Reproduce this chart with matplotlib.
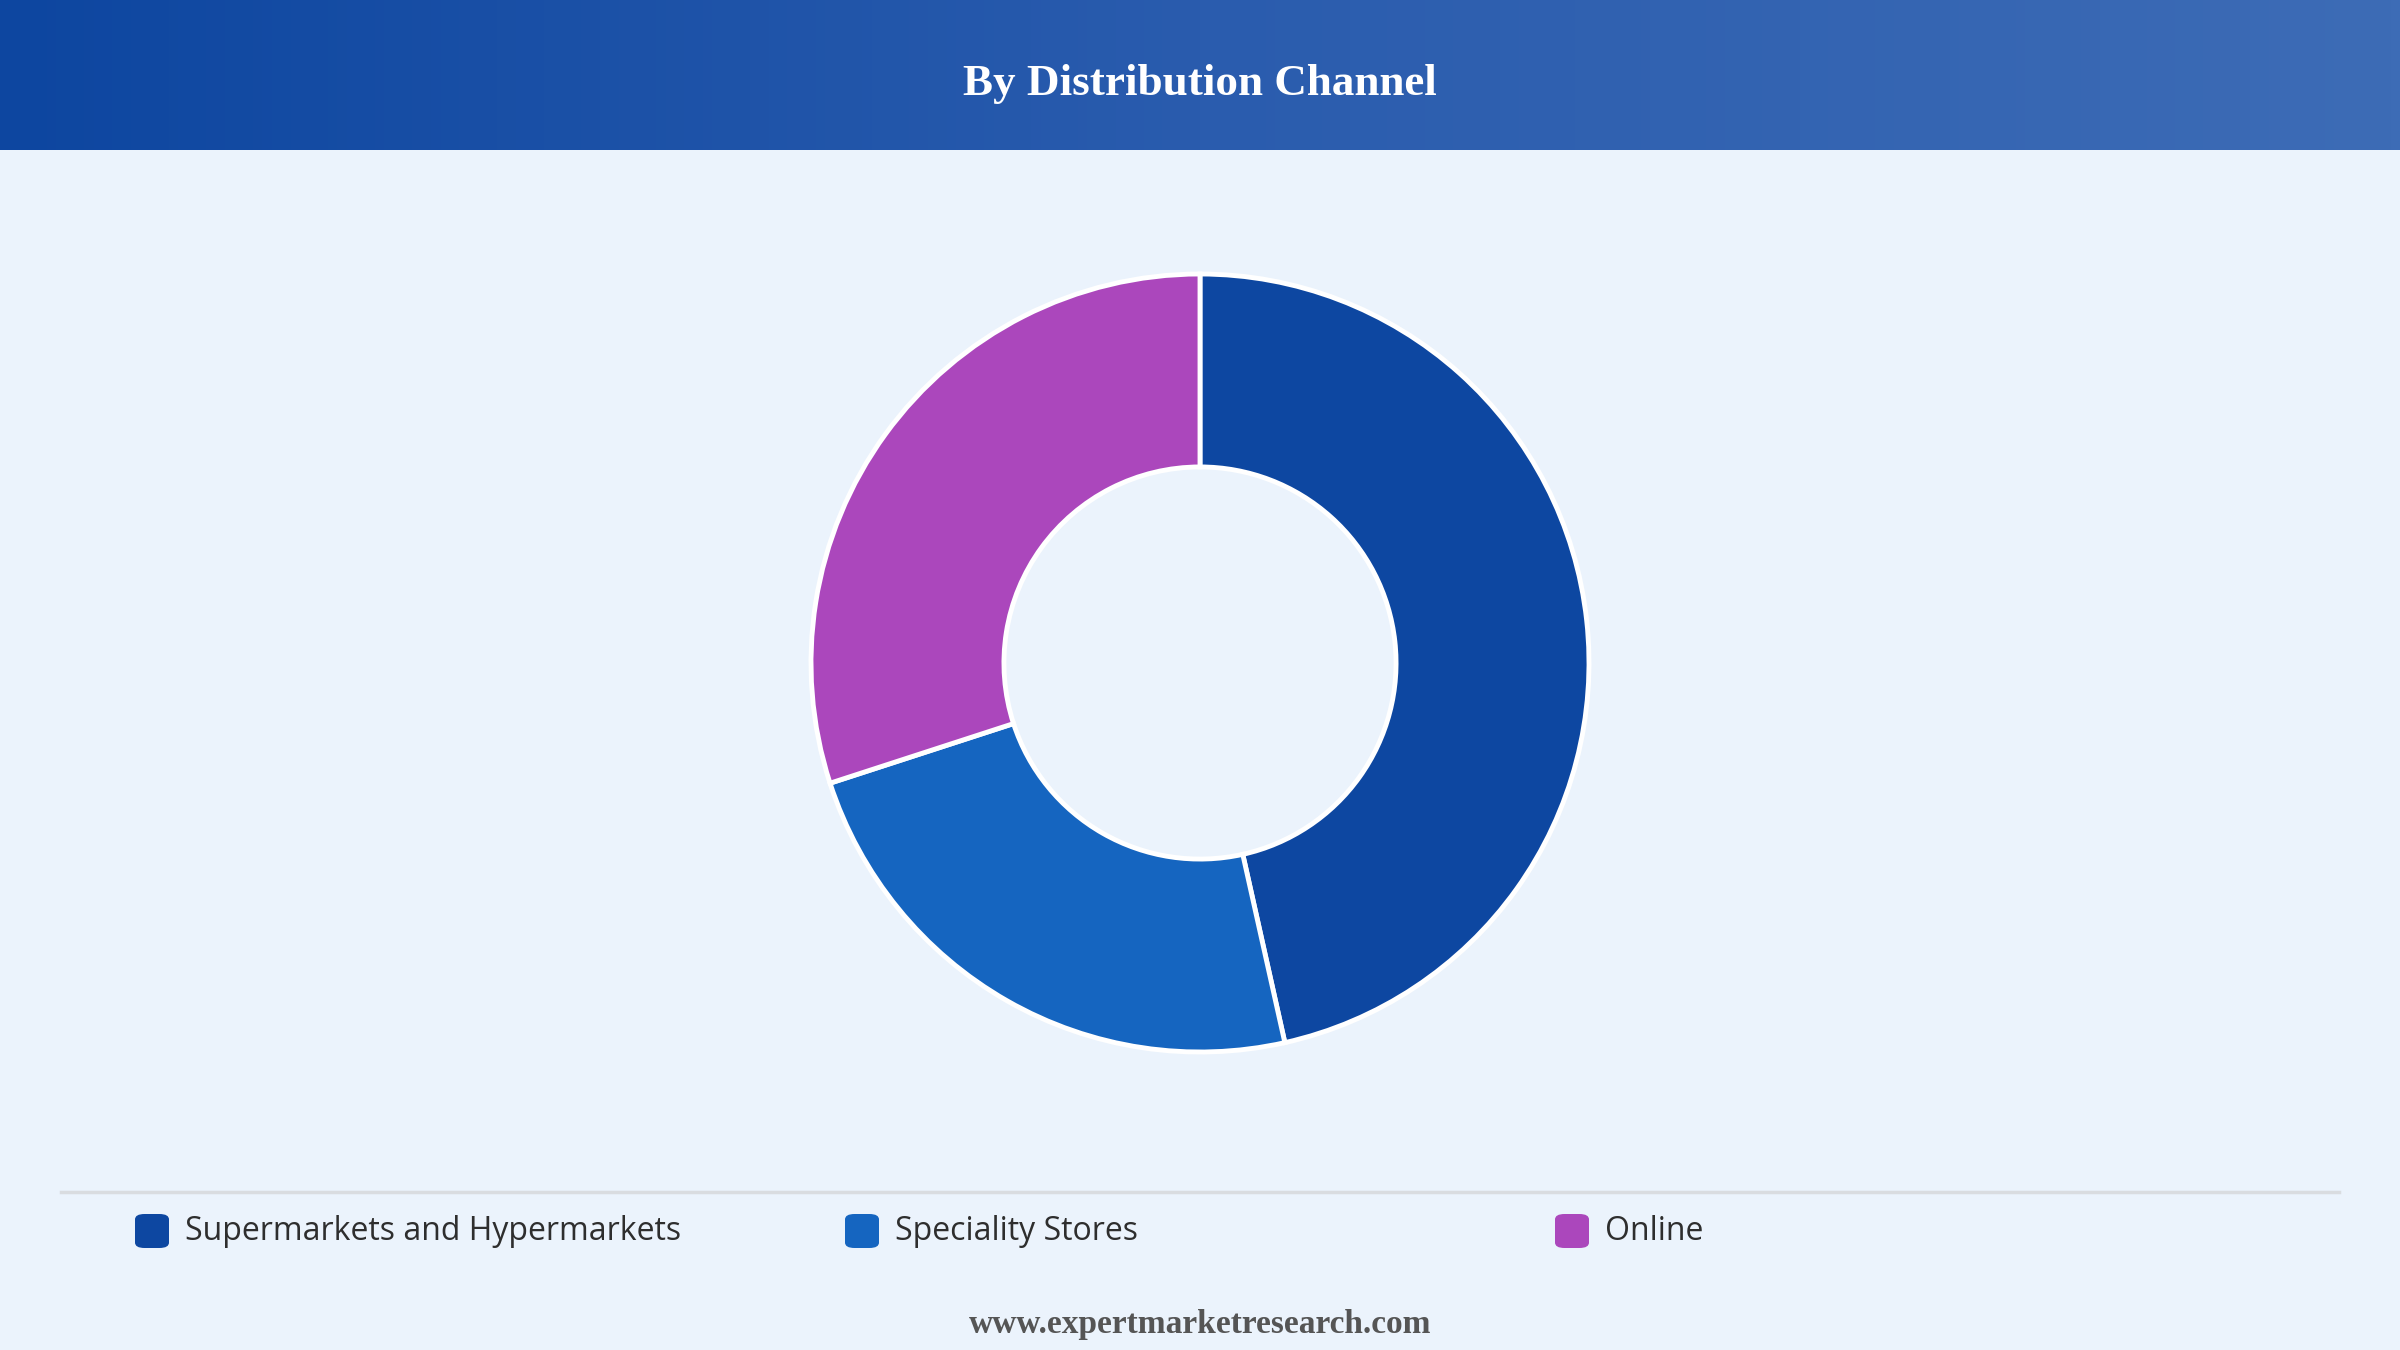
import numpy as np
import matplotlib.pyplot as plt
from matplotlib.patches import FancyBboxPatch
from matplotlib.lines import Line2D
from matplotlib.colors import LinearSegmentedColormap

# ---------------------------------------------------------------------------
# Data
# ---------------------------------------------------------------------------
channels = ["Supermarkets and Hypermarkets", "Speciality Stores", "Online"]
shares = [46.5, 23.5, 30.0]
colors = ["#0D47A1", "#1565C0", "#AB47BC"]

title = "By Distribution Channel"
footer = "www.expertmarketresearch.com"

W, H = 2400, 1350
bg = "#EBF3FC"

fig = plt.figure(figsize=(W / 100, H / 100), dpi=100, facecolor=bg)

# ---------------------------------------------------------------------------
# Header band with gradient
# ---------------------------------------------------------------------------
head_h = 150 / H
hax = fig.add_axes([0, 1 - head_h, 1, head_h])
grad = np.linspace(0, 1, 256).reshape(1, -1)
cmap = LinearSegmentedColormap.from_list("hdr", ["#0D46A0", "#2A5CAE", "#3D6CB6"])
hax.imshow(grad, aspect="auto", cmap=cmap, extent=[0, 1, 0, 1])
hax.set_axis_off()
hax.text(0.5, 0.44, title, ha="center", va="center", color="white",
         fontsize=32.5, fontweight="bold", family="Liberation Serif")

# ---------------------------------------------------------------------------
# Donut
# ---------------------------------------------------------------------------
cx, cy, r = 1200, 663, 389
box = 410
ax = fig.add_axes([(cx - box) / W, 1 - (cy + box) / H, 2 * box / W, 2 * box / H])
ax.set_facecolor("none")
ax.pie(shares, colors=colors, startangle=90, counterclock=False,
       radius=r / box,
       wedgeprops=dict(width=0.496 * r / box, edgecolor="white", linewidth=3.5))
ax.set_xlim(-1, 1)
ax.set_ylim(-1, 1)
ax.set_aspect("equal")
ax.set_axis_off()

# ---------------------------------------------------------------------------
# Legend
# ---------------------------------------------------------------------------
fig.add_artist(Line2D([61 / W, 2339 / W], [1 - 1192 / H] * 2,
                      color="#D9DCE0", linewidth=2.5))

leg_y = 1 - 1232 / H
col_x = [135, 845, 1555]
sq = 34
for x0, name, c in zip(col_x, channels, colors):
    fig.add_artist(FancyBboxPatch((x0 / W, leg_y - sq / 2 / H + 1 / H), sq / W, sq / H,
                                  boxstyle="round,pad=0,rounding_size=0.004",
                                  transform=fig.transFigure,
                                  facecolor=c, edgecolor="none"))
    fig.text((x0 + sq + 16) / W, leg_y, name, ha="left", va="center",
             fontsize=23, color="#2E2E2E", family="Open Sans")

fig.text(0.5, 1 - 1325 / H, footer, ha="center", va="center",
         fontsize=24, fontweight="bold", color="#555555",
         family="Liberation Serif")

fig.savefig("out.png", dpi=100, facecolor=bg)
